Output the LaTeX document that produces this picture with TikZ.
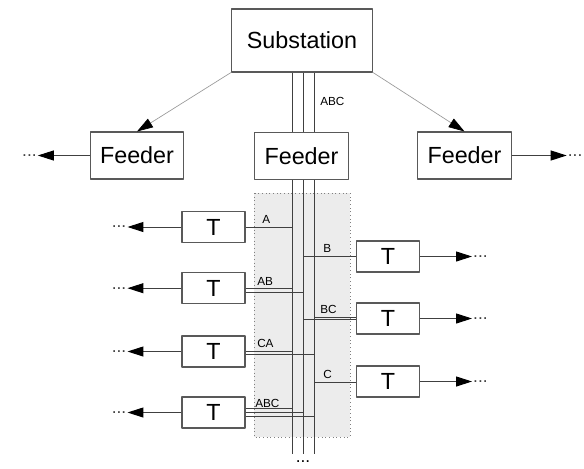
\documentclass[tikz,border=0pt]{standalone}
\usepackage{fontspec}
\setmainfont{Liberation Sans}
\usetikzlibrary{arrows.meta}
\begin{document}
\begin{tikzpicture}[x=0.75pt, y=-0.75pt, line join=round,
  >={Triangle[length=12pt,width=7.5pt,color=black]},
  box/.style={draw=black!65, line width=0.8pt, fill=white, inner sep=0pt,
    font=\fontsize{17.5}{20}\selectfont},
  big/.style={box, minimum width=105.75pt, minimum height=47.25pt},
  fdr/.style={box, minimum width=70pt, minimum height=35.25pt},
  tbox/.style={box, minimum width=47.25pt, minimum height=23.25pt},
  lbl/.style={anchor=base west, inner sep=0pt, font=\fontsize{8.8}{10}\selectfont},
  dots/.style={inner sep=0.5pt, font=\fontsize{13}{15}\selectfont},
  wire/.style={black!75, line width=0.75pt}]
	\useasboundingbox (0,0) rectangle (584,468);
	% shaded tap area
	\draw[gray, dotted, fill=gray!15, line width=0.75pt] (254,193) rectangle (350,437);
	\path
	(292,0) coordinate (A)
	(303,0) coordinate (B)
	(314,0) coordinate (C)
	(0,454) coordinate (bot);
	\node[big] (sub) at (302,40.5) {Substation};
	\node[fdr] (fl) at (137,155.5) {Feeder};
	\node[fdr] (fm) at (301.5,156) {Feeder};
	\node[fdr] (fr) at (464.5,155.5) {Feeder};
	\foreach \p in {A,B,C}{
		\draw[wire] (sub.south -| \p) -- (fm.north -| \p);
		\draw[wire] (fm.south -| \p) -- (bot -| \p);
	}
	\draw[->, gray!80, line width=0.5pt] (sub.south west) -- (fl.north);
	\draw[->, gray!80, line width=0.5pt] (sub.south east) -- (fr.north);
	\draw[->, wire] (fl.west) -- ++(-52,0) node[dots, left] (dl) {...};
	\draw[->, wire] (fr.east) -- ++(55,0) node[dots, right] (dr) {...};
	% transformers
	\foreach \n/\y in {1/227, 2/288.2, 3/351.5, 4/412.5}
		\node[tbox] (l\n) at (213.5,\y) {T};
	\foreach \n/\y in {1/256.5, 2/318.5, 3/381.5}
		\node[tbox] (r\n) at (388,\y) {T};
	\foreach \t in {l1,l2,l3,l4}
		\draw[->, wire] (\t.west) -- ++(-54,0) node[dots, left] {...};
	\foreach \t in {r1,r2,r3}
		\draw[->, wire] (\t.east) -- ++(52,0) node[dots, right] {...};
	% taps
	\draw[wire] (l1.east) -- (l1.east -| A);
	\draw[wire] (l2.east) -- (l2.east -| A)
		([yshift=-3pt]l2.east) -- ([yshift=-3pt]l2.east -| B);
	\draw[wire] (l3.east) -- (l3.east -| A)
		([yshift=-2.25pt]l3.east) -- ([yshift=-2.25pt]l3.east -| C);
	\draw[wire] ([yshift=3pt]l4.east) -- ([yshift=3pt]l4.east -| A)
		(l4.east) -- (l4.east -| B)
		([yshift=-3pt]l4.east) -- ([yshift=-3pt]l4.east -| C);
	\draw[wire] (r1.west -| B) -- (r1.west);
	\draw[wire] ([yshift=1pt]r2.west -| C) -- ([yshift=1pt]r2.west)
		([yshift=-1pt]r2.west -| B) -- ([yshift=-1pt]r2.west);
	\draw[wire] ([yshift=-1pt]r3.west -| C) -- ([yshift=-1pt]r3.west);
	\draw (320,105) node[lbl] (labc0) {ABC}
	(262,223) node[lbl] (la) {A}
	(257,285) node[lbl] (lab) {AB}
	(257,347) node[lbl] (lca) {CA}
	(255,407) node[lbl] (labc) {ABC}
	(323,252) node[lbl] (lb) {B}
	(320,313) node[lbl] (lbc) {BC}
	(323,378) node[lbl] (lc) {C};
	\node[dots] (more) at (303,462) {...};
\end{tikzpicture}
\end{document}
